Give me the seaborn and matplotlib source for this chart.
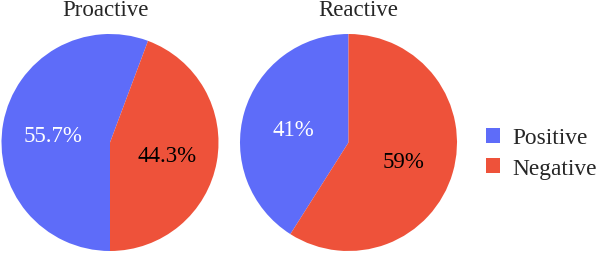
import numpy as np
import seaborn as sns
import matplotlib.pyplot as plt

labels = ['Positive', 'Negative']
groups = ['Proactive', 'Reactive']
proactive = [55.7, 44.3]
reactive = [41, 59]
pct_text = [['55.7%', '44.3%'], ['41%', '59%']]
colors = ['#5E6CF9', '#EE523A']

sns.set_theme(style='white')
plt.rcParams['font.family'] = ['Liberation Serif', 'DejaVu Serif']

fig = plt.figure(figsize=(5.97, 2.55), dpi=100)
W, H = 597, 255
r = 108.5
centers = [(110, 143.5), (348.5, 143.5)]
title_x = [105, 358]
# proactive: negative slice starts at 6 o'clock, reactive starts at 12
starts = [270 + 3.6 * proactive[1], 90]

wedges_all = []
for i, vals in enumerate([proactive, reactive]):
    cx, cy = centers[i]
    ax = fig.add_axes([(cx - r) / W, (H - cy - r) / H, 2 * r / W, 2 * r / H])
    wedges, _ = ax.pie(vals, colors=colors, startangle=starts[i],
                       counterclock=True, radius=1,
                       wedgeprops=dict(linewidth=0))
    ax.set_xlim(-1, 1)
    ax.set_ylim(-1, 1)
    # percent labels at ~0.53 radius along slice middle
    for j, w in enumerate(wedges):
        mid = np.deg2rad((w.theta1 + w.theta2) / 2)
        ax.text(0.53 * np.cos(mid), 0.53 * np.sin(mid) - 0.03, pct_text[i][j],
                ha='center', va='center', fontsize=16.5,
                color='white' if j == 0 else 'black')
    fig.text(title_x[i] / W, 1 - 11 / H, groups[i], ha='center',
             va='center', fontsize=16.5)
    wedges_all = wedges

fig.legend(wedges_all, labels, loc='center left',
           bbox_to_anchor=(486 / W, 1 - 154 / H), frameon=False,
           fontsize=16.8, handlelength=0.62, handleheight=0.62,
           handletextpad=0.5, labelspacing=0.4, borderpad=0,
           borderaxespad=0)

fig.savefig('out.png', dpi=100)
